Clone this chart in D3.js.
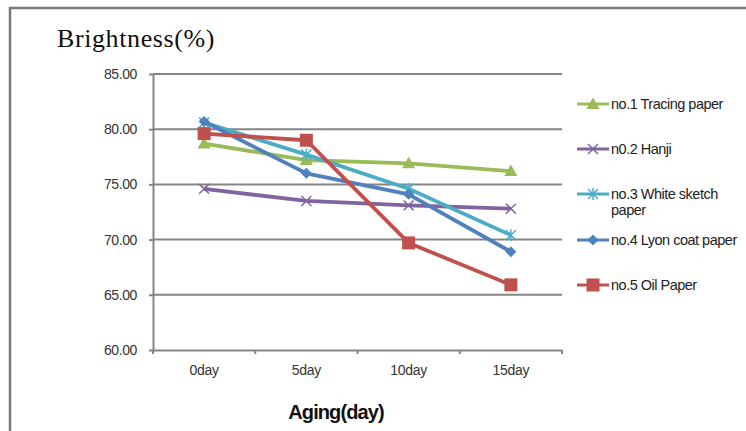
<!DOCTYPE html>
<html><head><meta charset="utf-8">
<script src="https://cdn.jsdelivr.net/npm/d3@7"></script>
<style>body{margin:0;background:#fff}svg{display:block}</style>
</head><body>
<svg id="c" width="746" height="431"></svg>
<script>
const categories = ["0day", "5day", "10day", "15day"];
const seriesNames = ["no.1 Tracing paper", "n0.2 Hanji", "no.3 White sketch paper", "no.4 Lyon coat paper", "no.5 Oil Paper"];
const tracing = [78.7, 77.2, 76.9, 76.2];
const hanji = [74.6, 73.5, 73.1, 72.8];
const whiteSketch = [80.6, 77.7, 74.6, 70.4];
const lyonCoat = [80.7, 76.0, 74.1, 68.9];
const oilPaper = [79.6, 79.0, 69.7, 65.9];
const yTicks = [60, 65, 70, 75, 80, 85];
const colors = ["#9bbb59", "#8064a2", "#4bacc6", "#4f81bd", "#c0504d"];
const markers = ["triangle", "x", "star", "diamond", "square"];
const allValues = [tracing, hanji, whiteSketch, lyonCoat, oilPaper];

const svg = d3.select("#c");
const L = 153, R = 562, T = 74, B = 350;
const x = d3.scaleBand().domain(categories).range([L, R]).padding(0);
const y = d3.scaleLinear().domain([60, 85]).range([B, T]);
const gray = "#858585";

// outer frame
svg.append("path").attr("d", "M10,440 L10,8 L750,8").attr("fill","none").attr("stroke", "#7a7a7a").attr("stroke-width", 2.5);

// title
svg.append("text").attr("x", 57).attr("y", 47).attr("font-family", "Liberation Serif, serif")
  .attr("font-size", 26).attr("letter-spacing", 0.6).attr("fill", "#111").text("Brightness(%)");

// gridlines
svg.append("g").selectAll("line").data(yTicks.slice(1)).join("line")
  .attr("x1", L).attr("x2", R).attr("y1", d => y(d)).attr("y2", d => y(d))
  .attr("stroke", gray).attr("stroke-width", 2);

// y axis
const yAxis = svg.append("g").attr("transform", `translate(${L},0)`)
  .call(d3.axisLeft(y).tickValues(yTicks).tickFormat(d3.format(".2f")).tickSize(4).tickPadding(12).tickSizeOuter(0));
yAxis.select(".domain").attr("stroke", gray).attr("stroke-width", 2);
yAxis.selectAll(".tick line").attr("stroke", gray).attr("stroke-width", 2);
yAxis.selectAll("text").attr("font-family", "Liberation Sans, Arial, sans-serif").attr("font-size", 14)
  .attr("letter-spacing", -0.4).attr("fill", "#333");

// x axis
const xAxis = svg.append("g").attr("transform", `translate(0,${B})`)
  .call(d3.axisBottom(x).tickSize(0).tickPadding(15).tickSizeOuter(0));
xAxis.select(".domain").attr("stroke", gray).attr("stroke-width", 2);
xAxis.selectAll("text").attr("font-family", "Liberation Sans, Arial, sans-serif").attr("font-size", 14)
  .attr("letter-spacing", -0.3).attr("fill", "#333");
// category boundary ticks
const bounds = categories.map(c => x(c)).concat([x(categories[categories.length-1]) + x.bandwidth()]);
svg.append("g").selectAll("line").data(bounds).join("line")
  .attr("x1", d => d).attr("x2", d => d).attr("y1", B).attr("y2", B + 4)
  .attr("stroke", gray).attr("stroke-width", 2);

// x axis title
svg.append("text").attr("x", 336).attr("y", 419).attr("text-anchor", "middle")
  .attr("font-family", "Liberation Sans, Arial, sans-serif").attr("font-weight", "bold")
  .attr("font-size", 20).attr("letter-spacing", -0.9).attr("fill", "#111").text("Aging(day)");

function drawMarker(g, type, cx, cy, color, s) {
  if (type === "triangle") {
    g.append("path").attr("d", `M${cx},${cy-s*0.6} L${cx+s*0.6},${cy+s*0.45} L${cx-s*0.6},${cy+s*0.45}Z`).attr("fill", color);
  } else if (type === "square") {
    g.append("rect").attr("x", cx - s/2).attr("y", cy - s/2).attr("width", s).attr("height", s).attr("fill", color);
  } else if (type === "diamond") {
    const h = s * 0.55;
    g.append("path").attr("d", `M${cx},${cy-h} L${cx+h},${cy} L${cx},${cy+h} L${cx-h},${cy}Z`).attr("fill", color);
  } else if (type === "x") {
    const h = s * 0.45;
    g.append("path").attr("d", `M${cx-h},${cy-h} L${cx+h},${cy+h} M${cx-h},${cy+h} L${cx+h},${cy-h}`)
      .attr("stroke", color).attr("stroke-width", 1.5);
  } else if (type === "star") {
    const h = s * 0.45;
    g.append("path").attr("d", `M${cx-h},${cy-h} L${cx+h},${cy+h} M${cx-h},${cy+h} L${cx+h},${cy-h} M${cx},${cy-h*1.2} L${cx},${cy+h*1.2}`)
      .attr("stroke", color).attr("stroke-width", 1.5);
  }
}
const sizes = [11, 11, 11, 10, 13];

// series
const line = d3.line().x((d, i) => x(categories[i]) + x.bandwidth()/2).y(d => y(d));
allValues.forEach((vals, si) => {
  const g = svg.append("g");
  g.append("path").datum(vals).attr("d", line).attr("fill", "none")
    .attr("stroke", colors[si]).attr("stroke-width", 3.8).attr("stroke-linejoin", "round");
  vals.forEach((v, i) => drawMarker(g, markers[si], x(categories[i]) + x.bandwidth()/2, y(v), colors[si], sizes[si]));
});

// legend
const legY = [104, 149, 194, 240, 285];
seriesNames.forEach((name, si) => {
  const g = svg.append("g");
  const ly = legY[si];
  g.append("line").attr("x1", 577).attr("x2", 609).attr("y1", ly).attr("y2", ly)
    .attr("stroke", colors[si]).attr("stroke-width", 3);
  drawMarker(g, markers[si], 593, ly, colors[si], sizes[si]);
  const t = g.append("text").attr("x", 611).attr("y", ly + 5)
    .attr("font-family", "Liberation Sans, Arial, sans-serif").attr("font-size", 14.5)
    .attr("letter-spacing", -0.5).attr("fill", "#222");
  if (si === 2) {
    t.append("tspan").attr("x", 611).text("no.3 White sketch");
    t.append("tspan").attr("x", 611).attr("dy", 16).text("paper");
  } else {
    t.text(name);
  }
});
</script>
</body></html>
